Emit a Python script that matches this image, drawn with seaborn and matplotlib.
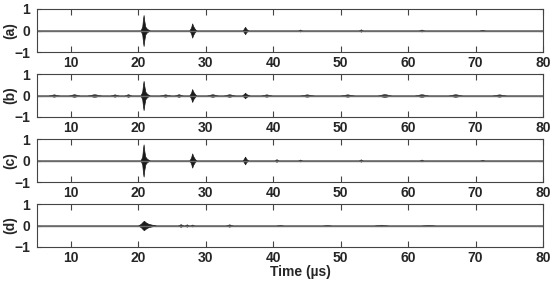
import matplotlib
matplotlib.use("Agg")
import matplotlib.pyplot as plt
import seaborn as sns
import pandas as pd

sns.set_theme(style="white")
plt.rcParams['font.family'] = ['Liberation Sans', 'DejaVu Sans']

panel_labels = ["(a)", "(b)", "(c)", "(d)"]
x_ticks = [10, 20, 30, 40, 50, 60, 70, 80]
y_ticks = [-1, 0, 1]

# envelopes of the echoes: (times in us, amplitudes)
main_a = ([20.35, 20.6, 20.72, 20.8, 20.9, 21.05, 21.3, 21.7],
          [0.0, 0.18, 0.55, 0.72, 0.45, 0.18, 0.08, 0.0])
echo2_a = ([27.6, 27.85, 28.0, 28.15, 28.4, 28.6], [0.0, 0.15, 0.33, 0.2, 0.07, 0.0])
echo3_a = ([35.5, 35.7, 35.85, 36.0, 36.3], [0.0, 0.1, 0.17, 0.08, 0.0])

main_b = ([20.35, 20.6, 20.72, 20.8, 20.9, 21.05, 21.3, 21.7],
          [0.0, 0.18, 0.52, 0.68, 0.45, 0.18, 0.08, 0.0])
echo2_b = ([27.6, 27.85, 28.0, 28.15, 28.4, 28.6], [0.0, 0.14, 0.3, 0.18, 0.07, 0.0])
echo3_b = ([35.4, 35.7, 35.85, 36.0, 36.5], [0.0, 0.08, 0.13, 0.07, 0.0])

main_c = ([20.35, 20.6, 20.72, 20.8, 20.9, 21.05, 21.3, 21.7],
          [0.0, 0.18, 0.58, 0.75, 0.45, 0.18, 0.08, 0.0])
echo2_c = ([27.6, 27.85, 28.0, 28.15, 28.4, 28.6], [0.0, 0.15, 0.33, 0.2, 0.07, 0.0])
echo3_c = ([35.5, 35.7, 35.85, 36.0, 36.3], [0.0, 0.1, 0.18, 0.08, 0.0])

main_d = ([20.0, 20.4, 20.7, 20.85, 21.1, 21.5, 22.0, 22.6],
          [0.0, 0.08, 0.18, 0.22, 0.15, 0.08, 0.04, 0.0])

# small wave packets: centre (us), amplitude, half-width (us)
small_a = [(44.0, 0.05, 0.3), (53.0, 0.06, 0.3), (62.0, 0.05, 0.4), (71.0, 0.035, 0.4)]
small_b = [(7.5, 0.06, 0.8), (10.5, 0.07, 0.8), (13.5, 0.07, 1.0), (16.5, 0.06, 0.6),
           (18.5, 0.07, 0.5), (24.0, 0.06, 0.8), (26.0, 0.07, 0.6), (31.0, 0.07, 0.8),
           (33.5, 0.07, 0.8), (39.0, 0.06, 0.8), (45.0, 0.06, 1.0), (51.0, 0.06, 1.0),
           (56.5, 0.08, 1.0), (62.0, 0.07, 1.0), (67.0, 0.07, 1.0), (73.5, 0.06, 1.0)]
small_c = [(40.5, 0.07, 0.3), (44.0, 0.05, 0.3), (53.0, 0.06, 0.3), (62.0, 0.05, 0.3),
           (71.0, 0.04, 0.3)]
small_d = [(26.3, 0.07, 0.4), (27.2, 0.06, 0.3), (28.0, 0.05, 0.3), (33.5, 0.06, 0.5),
           (41.0, 0.03, 0.5), (48.0, 0.03, 0.6), (56.0, 0.04, 1.0), (63.0, 0.03, 1.0)]
noise_level = [0.015, 0.04, 0.03, 0.012]

big = [[main_a, echo2_a, echo3_a], [main_b, echo2_b, echo3_b],
       [main_c, echo2_c, echo3_c], [main_d]]
small = [small_a, small_b, small_c, small_d]

W, H = 556, 281
fig = plt.figure(figsize=(W / 100, H / 100), dpi=100)
tops = [9, 74, 139, 204]
ph = 43
left, right = 37, 543
wave = "#1a1a1a"

for i, lab in enumerate(panel_labels):
    ax = fig.add_axes([left / W, 1 - (tops[i] + ph) / H, (right - left) / W, ph / H])
    base = pd.DataFrame({"t": [5, 80], "v": [0, 0]})
    sns.lineplot(data=base, x="t", y="v", ax=ax, color="#6a6a6a", lw=1.0)
    n = noise_level[i]
    ax.fill_between([5, 80], [-n, -n], [n, n], color="#555555", lw=0, alpha=0.7)
    for xs, ys in big[i]:
        ax.fill_between(xs, [-y for y in ys], ys, color=wave, lw=0.5, edgecolor=wave)
    for c, a, w in small[i]:
        ax.fill_between([c - w, c, c + w], [0, -a, 0], [0, a, 0], color="#333333",
                        lw=0.3, edgecolor="#333333")
    ax.set_xlim(5, 80)
    ax.set_ylim(-1, 1)
    ax.set_xticks(x_ticks)
    ax.set_yticks(y_ticks)
    ax.set_yticklabels(["\u22121", "0", "1"])
    ax.tick_params(axis="x", direction="in", top=True, bottom=True, length=4, width=0.8,
                   color="#444444", labelsize=10, pad=3)
    ax.tick_params(axis="y", direction="in", left=True, right=True, length=3, width=0.8,
                   color="#444444", labelsize=10, pad=5)
    for lbl in ax.get_xticklabels() + ax.get_yticklabels():
        lbl.set_fontweight("bold")
    for s in ax.spines.values():
        s.set_color("#444444")
        s.set_linewidth(0.8)
    ax.set_xlabel("")
    ax.set_ylabel("")
    fig.text(10 / W, 1 - (tops[i] + ph / 2) / H, lab, rotation=90, ha="center",
             va="center", fontsize=10, fontweight="bold")

fig.text(300 / W, 1 - 272 / H, "Time (\u00b5s)", ha="center", va="center", fontsize=10,
         fontweight="bold")
fig.savefig("out.png", dpi=100)
